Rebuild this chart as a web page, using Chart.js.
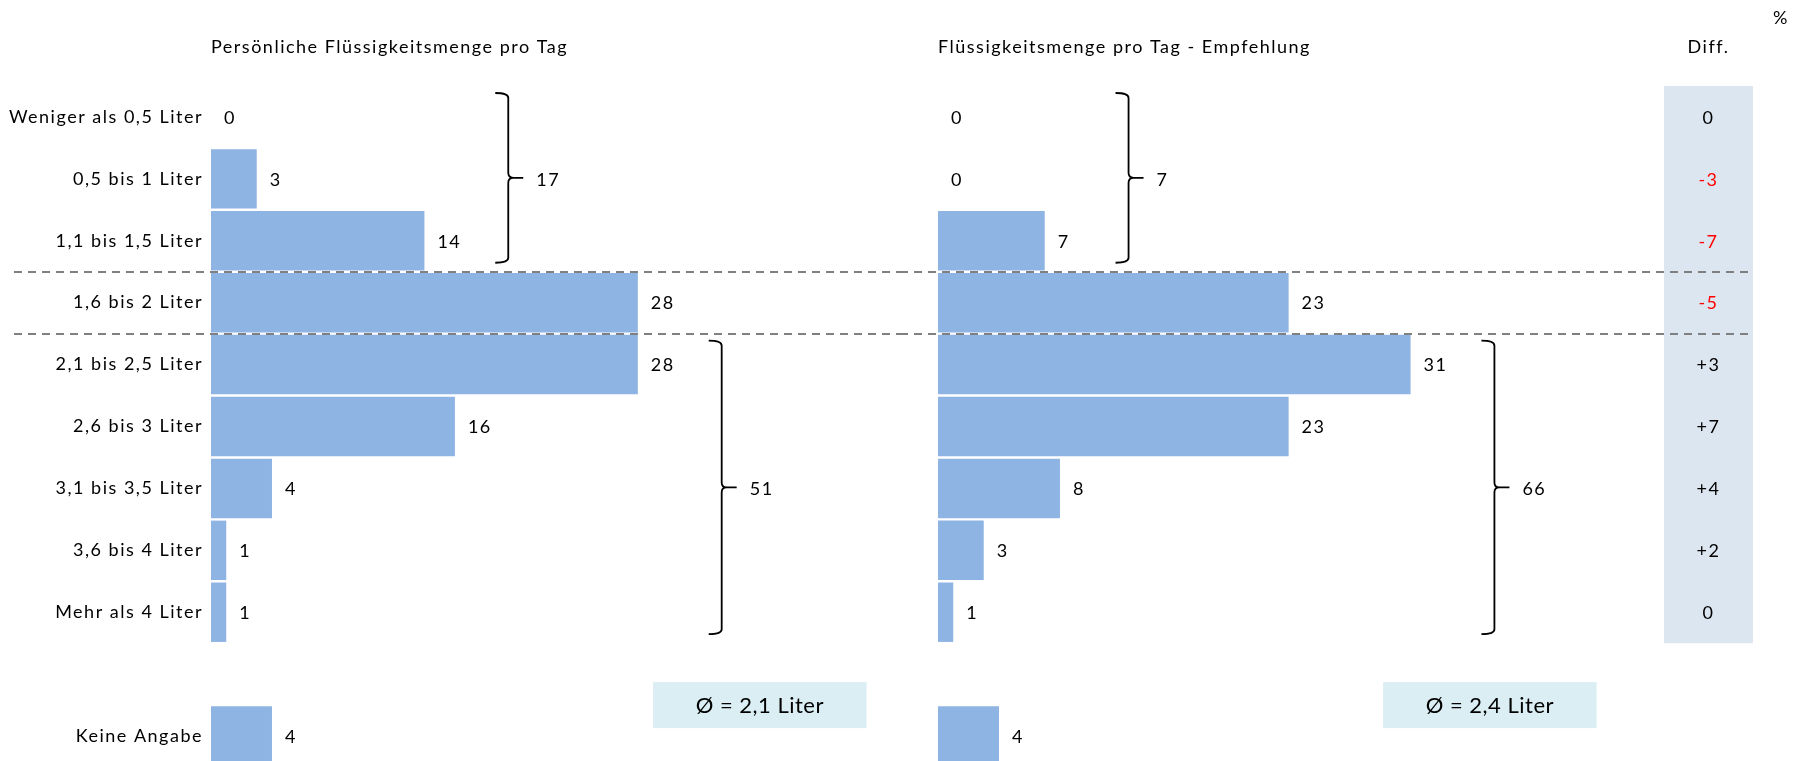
<!DOCTYPE html>
<html lang="de">
<head>
<meta charset="utf-8">
<title>Flüssigkeitsmenge pro Tag</title>
<script src="https://cdn.jsdelivr.net/npm/chart.js@4.4.1/dist/chart.umd.min.js"></script>
<style>
  html, body { margin: 0; padding: 0; background: #fff; overflow: hidden; }
  #links  { position: absolute; left: 0;     top: 0; width: 900px; height: 767px; }
  #rechts { position: absolute; left: 900px; top: 0; width: 907px; height: 767px; }
</style>
</head>
<body>
<div id="links"><canvas id="chartLinks"></canvas></div>
<div id="rechts"><canvas id="chartRechts"></canvas></div>
<script>
// Daten (Prozent)
const kategorien = ['Weniger als 0,5 Liter', '0,5 bis 1 Liter', '1,1 bis 1,5 Liter', '1,6 bis 2 Liter',
  '2,1 bis 2,5 Liter', '2,6 bis 3 Liter', '3,1 bis 3,5 Liter', '3,6 bis 4 Liter', 'Mehr als 4 Liter',
  '', 'Keine Angabe'];
const persoenlich = [0, 3, 14, 28, 28, 16, 4, 1, 1, null, 4];
const empfehlung  = [0, 0, 7, 23, 31, 23, 8, 3, 1, null, 4];
const differenz   = ['0', '-3', '-7', '-5', '+3', '+7', '+4', '+2', '0'];
const gruppenZeilen = [[0, 2], [4, 8]];
const summePersoenlich = [17, 51];
const summeEmpfehlung  = [7, 66];
const mittelwerte = ['\u00D8 = 2,1 Liter', '\u00D8 = 2,4 Liter'];
const titel = ['Persönliche Flüssigkeitsmenge pro Tag', 'Flüssigkeitsmenge pro Tag - Empfehlung'];

const FONT = 'Lato, "Open Sans", sans-serif';
const BLAU = '#8eb4e3';
const SPERRUNG = '1.5px';

Chart.defaults.font.family = FONT;
Chart.defaults.font.size = 18;
Chart.defaults.color = '#000';

function klammer(ctx, x, y0, y1, text) {
  const ym = (y0 + y1) / 2, r = 5;
  ctx.save();
  ctx.strokeStyle = '#000';
  ctx.lineWidth = 1.8;
  ctx.beginPath();
  ctx.moveTo(x - 13, y0);
  ctx.quadraticCurveTo(x, y0, x, y0 + r);
  ctx.lineTo(x, ym - r);
  ctx.quadraticCurveTo(x, ym, x + r, ym);
  ctx.lineTo(x + 15, ym);
  ctx.moveTo(x + r, ym);
  ctx.quadraticCurveTo(x, ym, x, ym + r);
  ctx.lineTo(x, y1 - r);
  ctx.quadraticCurveTo(x, y1, x - 13, y1);
  ctx.stroke();
  ctx.fillStyle = '#000';
  ctx.font = '18px ' + FONT;
  ctx.textAlign = 'left';
  ctx.textBaseline = 'middle';
  ctx.fillText(text, x + 28, ym + 2);
  ctx.restore();
}

const overlay = {
  id: 'overlay',
  beforeDraw(chart) {
    // Calibri-artige Laufweite fuer alle Texte
    chart.ctx.letterSpacing = SPERRUNG;
  },
  beforeDatasetsDraw(chart, args, opts) {
    if (!opts.diff) return;
    const ctx = chart.ctx;
    const ys = chart.scales.y;
    const band = ys.getPixelForValue(1) - ys.getPixelForValue(0);
    const xl = chart.chartArea.right + 40, w = 89;
    const top = ys.getPixelForValue(0) - band / 2;
    const bot = ys.getPixelForValue(differenz.length - 1) + band / 2;
    ctx.save();
    ctx.fillStyle = '#dce6f1';
    ctx.fillRect(xl, top, w, bot - top);
    ctx.font = '18px ' + FONT;
    ctx.textAlign = 'center';
    ctx.textBaseline = 'middle';
    differenz.forEach((d, i) => {
      ctx.fillStyle = d.startsWith('-') ? '#ff0000' : '#000';
      ctx.fillText(d, xl + w / 2, ys.getPixelForValue(i) + 1);
    });
    ctx.fillStyle = '#000';
    ctx.fillText('Diff.', xl + w / 2, 47);
    ctx.fillText('%', xl + w + 28, 18);
    ctx.restore();
  },
  afterDatasetsDraw(chart, args, opts) {
    const ctx = chart.ctx;
    const xs = chart.scales.x, ys = chart.scales.y;
    const werte = chart.data.datasets[0].data;
    const band = ys.getPixelForValue(1) - ys.getPixelForValue(0);

    // Werte neben den Balken
    ctx.save();
    ctx.font = '18px ' + FONT;
    ctx.fillStyle = '#000';
    ctx.textAlign = 'left';
    ctx.textBaseline = 'middle';
    chart.getDatasetMeta(0).data.forEach((el, i) => {
      if (werte[i] === null) return;
      ctx.fillText(String(werte[i]), el.x + 13, el.y + 1);
    });
    ctx.restore();

    // gestrichelte Trennlinien
    ctx.save();
    ctx.strokeStyle = '#808080';
    ctx.lineWidth = 2;
    ctx.setLineDash([8, 6]);
    [gruppenZeilen[0][1], gruppenZeilen[1][0] - 1].forEach(v => {
      const y = Math.round(ys.getPixelForValue(v) + band / 2);
      ctx.beginPath();
      ctx.moveTo(opts.linieVon, y);
      ctx.lineTo(opts.linieBis, y);
      ctx.stroke();
    });
    ctx.restore();

    // Klammern mit Summen
    gruppenZeilen.forEach((g, k) => {
      const top = ys.getPixelForValue(g[0]) - band / 2 + 7;
      const bot = ys.getPixelForValue(g[1]) + band / 2 - 9;
      const maxWert = Math.max(...werte.slice(g[0], g[1] + 1));
      klammer(ctx, xs.getPixelForValue(maxWert + 5.5), top, bot, String(opts.summen[k]));
    });

    // Mittelwert-Box
    const yBox = ys.getPixelForValue(9) + band / 2;
    const x0 = xs.getPixelForValue(opts.box[0]), x1 = xs.getPixelForValue(opts.box[1]);
    ctx.save();
    ctx.fillStyle = '#daeef3';
    ctx.fillRect(x0, yBox - 23, x1 - x0, 46);
    ctx.fillStyle = '#000';
    ctx.font = '22px ' + FONT;
    ctx.letterSpacing = '0.5px';
    ctx.textAlign = 'center';
    ctx.textBaseline = 'middle';
    ctx.fillText(opts.mittel, (x0 + x1) / 2, yBox + 1);
    ctx.restore();
  }
};

function optionen(titelText, links, overlayOpts) {
  const yAchse = {
    display: links,
    grid: { display: false, drawTicks: false },
    border: { display: false },
    ticks: { autoSkip: false, padding: 8, color: '#000', font: { size: 18 } }
  };
  if (links) {
    yAchse.afterFit = (scale) => {
      scale.width = 211;
      scale.paddingTop = 0;
      scale.paddingBottom = 0;
    };
  }
  return {
    indexAxis: 'y',
    responsive: true,
    maintainAspectRatio: false,
    animation: false,
    events: [],
    layout: { padding: links ? { left: 0, right: 3 } : { left: 38, right: 183 } },
    scales: {
      x: { display: false, min: 0, max: 45 },
      y: yAchse
    },
    plugins: {
      legend: { display: false },
      tooltip: { enabled: false },
      title: {
        display: true,
        text: titelText,
        align: 'start',
        fullSize: false,
        font: { size: 18, weight: 'normal' },
        padding: { top: 36, bottom: 28.4 }
      },
      overlay: overlayOpts
    }
  };
}

function datensatz(werte) {
  return {
    labels: kategorien,
    datasets: [{
      data: werte,
      backgroundColor: BLAU,
      borderWidth: 0,
      barPercentage: 1,
      categoryPercentage: 0.96
    }]
  };
}

new Chart(document.getElementById('chartLinks'), {
  type: 'bar',
  data: datensatz(persoenlich),
  options: optionen(titel[0], true, {
    summen: summePersoenlich, mittel: mittelwerte[0], box: [29, 43],
    linieVon: 14, linieBis: 900, diff: false
  }),
  plugins: [overlay]
});

new Chart(document.getElementById('chartRechts'), {
  type: 'bar',
  data: datensatz(empfehlung),
  options: optionen(titel[1], false, {
    summen: summeEmpfehlung, mittel: mittelwerte[1], box: [29.2, 43.2],
    linieVon: 0, linieBis: 853, diff: true
  }),
  plugins: [overlay]
});
</script>
</body>
</html>
